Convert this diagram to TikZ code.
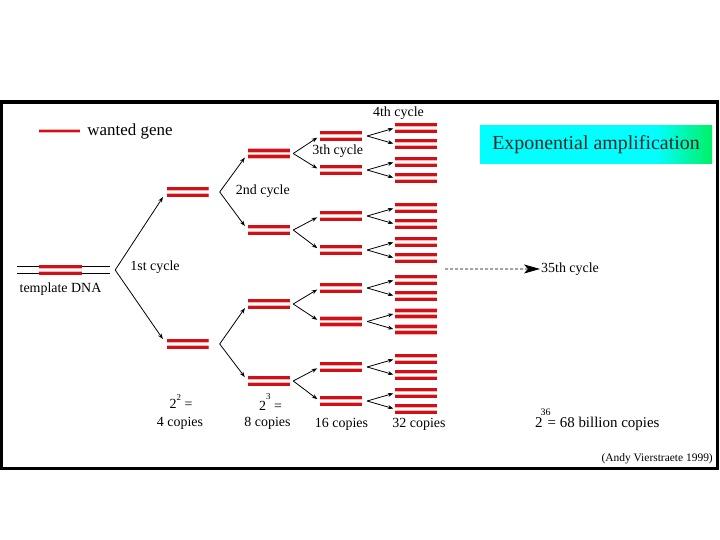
\documentclass[tikz,border=0pt]{standalone}
\usepackage{fontspec}
\setmainfont{Liberation Serif}
\usepackage{tikz}
\usetikzlibrary{positioning,arrows.meta}
\usepackage{xcolor}

\definecolor{genered}{RGB}{208,16,22}
\definecolor{halopink}{RGB}{246,176,176}
\definecolor{titlecyan}{RGB}{0,255,255}
\definecolor{titlegreen}{RGB}{0,240,100}

\pgfdeclarehorizontalshading{titleshade}{100bp}{%
  color(0bp)=(titlecyan); color(25bp)=(titlecyan); color(63bp)=(titlecyan);
  color(75bp)=(titlegreen); color(100bp)=(titlegreen)}

\begin{document}
\begin{tikzpicture}[
            x=1bp, y=-1bp,
            txt/.style={inner sep=0pt, font=\fontsize{14}{16}\selectfont},
            halo/.style={line width=4.6bp, halopink},
            strand/.style={line width=2.9bp, genered},
            dsdna/.style={
                minimum width=42bp,
                minimum height=12bp,
                inner sep=0pt,
                path picture={
                    \foreach \dy in {-3.1bp,3.1bp} {
                        \draw[halo] ([yshift=\dy]path picture bounding box.west) -- ([yshift=\dy]path picture bounding box.east);
                        \draw[strand] ([yshift=\dy]path picture bounding box.west) -- ([yshift=\dy]path picture bounding box.east);
                    }
                }
            },
            template/.style={
                minimum width=93bp,
                minimum height=12bp,
                inner sep=0pt,
                path picture={
                    \foreach \dy in {-3.1bp,3.1bp} {
                        \draw[line width=0.9bp] ([yshift=\dy]path picture bounding box.west) -- ([yshift=\dy]path picture bounding box.east);
                        \draw[halo] ([xshift=-24.5bp,yshift=\dy]path picture bounding box.center) -- ([xshift=18.5bp,yshift=\dy]path picture bounding box.center);
                        \draw[strand] ([xshift=-24.5bp,yshift=\dy]path picture bounding box.center) -- ([xshift=18.5bp,yshift=\dy]path picture bounding box.center);
                    }
                }
            },
            gene/.style={
                minimum width=41bp,
                minimum height=6bp,
                inner sep=0pt,
                path picture={
                    \draw[halo] (path picture bounding box.west) -- (path picture bounding box.east);
                    \draw[strand] (path picture bounding box.west) -- (path picture bounding box.east);
                }
            },
            titlebox/.style={
                shade,
                shading=titleshade,
                minimum width=232bp,
                minimum height=38bp,
                inner sep=0pt,
                text=black!85,
                font=\fontsize{20}{24}\selectfont
            },
            arrow/.style={-{Stealth[length=5.5bp,width=4bp]}, line width=0.8bp},
            dasharrow/.style={-{Stealth[length=16bp,width=9bp,inset=4bp]}, dash pattern=on 3bp off 2bp, line width=0.7bp}
        ]

        \useasboundingbox (0,0) rectangle (720,540);
        \draw[line width=3.2bp] (1.6,102) rectangle (717.8,468.5);

        % legend and title
        \node[gene] (legend) at (59.5,131) {};
        \node[txt, font=\fontsize{17}{20}\selectfont, right=7bp of legend] (legendtext) {wanted gene};
        \node[titlebox] (title) at (596,145) {Exponential amplification};

        % template and first two cycles
        \node[template] (tmpl) at (63.5,270) {};
        \node[txt, below=6bp of tmpl, xshift=-3bp] (tmpltext) {template DNA};

        \node[dsdna] (g1a) at (187.5,192) {};
        \node[dsdna] (g1b) at (187.5,344) {};

        \node[dsdna] (g2a) at (269,153.5) {};
        \node[dsdna] (g2b) at (269,230) {};
        \node[dsdna] (g2c) at (269,304) {};
        \node[dsdna] (g2d) at (269,381) {};

        \coordinate (c1) at ([xshift=5bp]tmpl.east);
        \draw[arrow, shorten >=6bp] (c1) -- (g1a.west);
        \draw[arrow, shorten >=6bp] (c1) -- (g1b.west);

        \coordinate (g1a-v) at ([xshift=11bp]g1a.east);
        \coordinate (g1b-v) at ([xshift=11bp]g1b.east);
        \draw[arrow, shorten >=5bp] (g1a-v) -- (g2a.west);
        \draw[arrow, shorten >=5bp] (g1a-v) -- (g2b.west);
        \draw[arrow, shorten >=5bp] (g1b-v) -- (g2c.west);
        \draw[arrow, shorten >=5bp] (g1b-v) -- (g2d.west);

        % third cycle
        \foreach \name/\y/\up in {g3a/136/g2a, g3b/170/g2a, g3c/216/g2b, g3d/250/g2b,
                                 g3e/288/g2c, g3f/321.5/g2c, g3g/367/g2d, g3h/401/g2d} {
            \node[dsdna] (\name) at (341,\y) {};
            \draw[arrow, shorten >=3bp] ([xshift=3bp]\up.east) -- (\name.west);
        }

        % fourth cycle
        \foreach \name/\y in {g3a/136, g3b/170, g3c/216, g3d/250,
                              g3e/288, g3f/321.5, g3g/367, g3h/401} {
            \node[dsdna] (\name-1) at (416,\y-8) {};
            \node[dsdna] (\name-2) at (416,\y+8) {};
            \coordinate (\name-v) at ([xshift=5bp]\name.east);
            \draw[arrow, shorten >=1.5bp] (\name-v) -- (\name-1.west);
            \draw[arrow, shorten >=1.5bp] (\name-v) -- (\name-2.west);
        }

        % cycle labels
        \node[txt, right=20bp of tmpl, yshift=3bp] (cyc1) {1st cycle};
        \node[txt, right=27bp of g1a, yshift=1bp] (cyc2) {2nd cycle};
        \node[txt, right=22bp of g2a, yshift=2bp] (cyc3) {3th cycle};
        \node[txt, above=2bp of g3a-1, xshift=-17.5bp] (cyc4) {4th cycle};

        \node[txt, anchor=base west] (cyc35) at (541,272.3) {35th cycle};
        \coordinate (dstart) at (445,269);
        \draw[dasharrow, shorten >=1bp] (dstart) -- (cyc35.west);

        % copy counts
        \node[txt, anchor=base] (pow4) at (181,408) {2\raisebox{8bp}{\fontsize{9}{9}\selectfont 2}~=};
        \node[txt, anchor=base] (copies4) at (180,426.7) {4 copies};
        \node[txt, anchor=base] (pow8) at (270.5,410) {2\raisebox{11bp}{\fontsize{9}{9}\selectfont 3}~=};
        \node[txt, anchor=base] (copies8) at (267.5,426.7) {8 copies};
        \node[txt, anchor=base] (copies16) at (341.5,427.3) {16 copies};
        \node[txt, anchor=base] (copies32) at (419,427) {32 copies};
        \node[txt, anchor=base west, font=\fontsize{15}{18}\selectfont] (copies35) at (535,427.5)
            {2\rlap{\kern-2bp\raisebox{12bp}{\fontsize{10}{10}\selectfont 36}}\kern5bp= 68 billion copies};

        \node[txt, anchor=base east, font=\fontsize{11.5}{13}\selectfont] (credit) at (713,461) {(Andy Vierstraete 1999)};

        \end{tikzpicture}
\end{document}
